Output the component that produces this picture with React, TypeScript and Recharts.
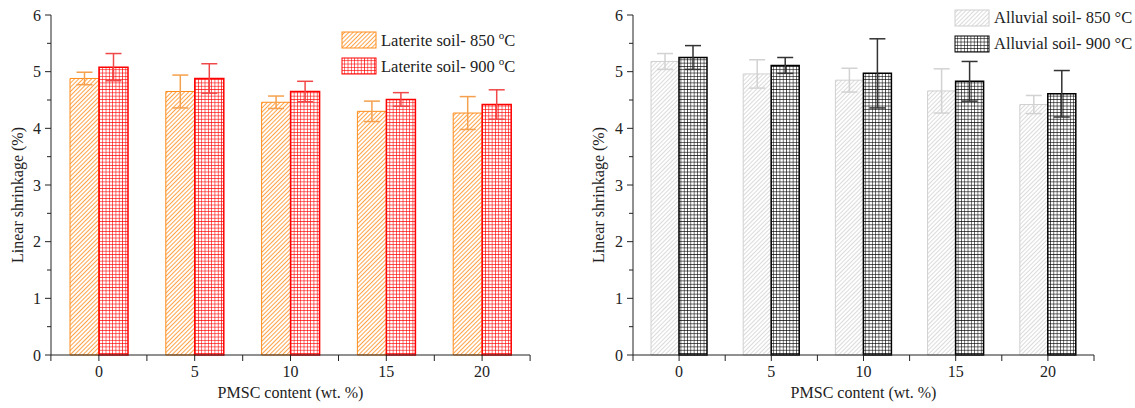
import React from "react";
import { BarChart, Bar, XAxis, YAxis, ErrorBar, Legend } from "recharts";

const categories = ["0", "5", "10", "15", "20"];
const laterite850 = [4.88, 4.65, 4.46, 4.3, 4.27];
const laterite850Err = [0.11, 0.29, 0.11, 0.18, 0.29];
const laterite900 = [5.08, 4.88, 4.65, 4.51, 4.42];
const laterite900Err = [0.24, 0.26, 0.18, 0.12, 0.26];
const alluvial850 = [5.18, 4.96, 4.85, 4.66, 4.42];
const alluvial850Err = [0.14, 0.25, 0.21, 0.39, 0.16];
const alluvial900 = [5.25, 5.11, 4.97, 4.83, 4.61];
const alluvial900Err = [0.21, 0.14, 0.61, 0.35, 0.41];
const yTicks = [0, 0.5, 1, 1.5, 2, 2.5, 3, 3.5, 4, 4.5, 5, 5.5, 6];

const FONT = "'Liberation Serif', 'Times New Roman', serif";
const AXIS = "#222";

const lateriteData = categories.map((c, i) => ({
  c,
  a: laterite850[i],
  aErr: laterite850Err[i],
  b: laterite900[i],
  bErr: laterite900Err[i],
}));

const alluvialData = categories.map((c, i) => ({
  c,
  a: alluvial850[i],
  aErr: alluvial850Err[i],
  b: alluvial900[i],
  bErr: alluvial900Err[i],
}));

function XTick(props: any) {
  const { x, y, payload, index, half } = props;
  const ay = y - 11;
  return (
    <g>
      <line x1={x} x2={x} y1={ay} y2={ay + 6} stroke={AXIS} />
      <line x1={x + half} x2={x + half} y1={ay} y2={ay + 6} stroke={AXIS} />
      {index === 0 && <line x1={x - half} x2={x - half} y1={ay} y2={ay + 6} stroke={AXIS} />}
      <text x={x} y={y} dy="0.71em" textAnchor="middle" fill={AXIS} style={{ fontFamily: FONT, fontSize: 16 }}>
        {payload.value}
      </text>
    </g>
  );
}

function YTick(props: any) {
  const { x, y, payload } = props;
  const ax = x + 10;
  const major = Number.isInteger(payload.value);
  return (
    <g>
      <line x1={ax} x2={ax - (major ? 6 : 4)} y1={y} y2={y} stroke={AXIS} />
      {major && (
        <text x={x} y={y} dy="0.35em" textAnchor="end" fill={AXIS} style={{ fontFamily: FONT, fontSize: 16 }}>
          {payload.value}
        </text>
      )}
    </g>
  );
}

function Swatch({ fill, stroke }: { fill: string; stroke: string }) {
  return (
    <svg width={36} height={18} style={{ display: "block" }}>
      <rect x={1} y={1} width={34} height={16} fill={fill} stroke={stroke} strokeWidth={1} />
    </svg>
  );
}

function LegendBox({ items }: { items: { fill: string; stroke: string; label: React.ReactNode }[] }) {
  return (
    <div style={{ fontFamily: FONT, fontSize: 16.5, color: "#222" }}>
      {items.map((it, i) => (
        <div key={i} style={{ display: "flex", alignItems: "center", height: 26, whiteSpace: "nowrap" }}>
          <Swatch fill={it.fill} stroke={it.stroke} />
          <span style={{ marginLeft: 4 }}>{it.label}</span>
        </div>
      ))}
    </div>
  );
}

const lateriteLegend = [
  {
    fill: "url(#hatchOrange)",
    stroke: "#FF8C1A",
    label: (
      <>
        Laterite soil- 850 <sup style={{ fontSize: 11 }}>o</sup>C
      </>
    ),
  },
  {
    fill: "url(#gridRed)",
    stroke: "#FF0000",
    label: (
      <>
        Laterite soil- 900 <sup style={{ fontSize: 11 }}>o</sup>C
      </>
    ),
  },
];

const alluvialLegend = [
  { fill: "url(#hatchGray)", stroke: "#CFCFCF", label: "Alluvial soil- 850 °C" },
  { fill: "url(#gridBlack)", stroke: "#000", label: "Alluvial soil- 900 °C" },
];

const labelStyle = { fontSize: 16, fill: AXIS, fontFamily: FONT };

export default function App() {
  return (
    <div style={{ position: "absolute", left: 0, top: 0, width: 1135, height: 408, background: "#fff", fontFamily: FONT }}>
      <div style={{ position: "absolute", left: 0, top: 0 }}>
        <BarChart
          width={565}
          height={408}
          data={lateriteData}
          margin={{ top: 15, right: 35, bottom: 0, left: 0 }}
          barCategoryGap={19}
          barGap={0}
          style={{ fontFamily: FONT }}
        >
          <defs>
            <pattern id="hatchOrange" patternUnits="userSpaceOnUse" width={3} height={3} patternTransform="rotate(45)">
              <rect width={3} height={3} fill="#fff" />
              <line x1={0} y1={0} x2={0} y2={3} stroke="#FF8C1A" strokeWidth={1.6} />
            </pattern>
            <pattern id="gridRed" patternUnits="userSpaceOnUse" width={3.3} height={3.3}>
              <rect width={3.3} height={3.3} fill="#fff" />
              <path d="M0 0 H3.3 M0 0 V3.3" stroke="#FF0000" strokeWidth={1.2} fill="none" />
            </pattern>
          </defs>
          <XAxis
            dataKey="c"
            height={53}
            stroke={AXIS}
            tickLine={false}
            tickSize={0}
            tickMargin={11}
            tick={(p: any) => <XTick {...p} half={48} />}
            label={{ value: "PMSC content (wt. %)", position: "center", dy: 11, ...labelStyle }}
          />
          <YAxis
            width={51}
            domain={[0, 6]}
            ticks={yTicks}
            interval={0}
            stroke={AXIS}
            tickLine={false}
            tickSize={0}
            tickMargin={10}
            tick={(p: any) => <YTick {...p} />}
            label={{ value: "Linear shrinkage (%)", angle: -90, position: "center", dx: -8, dy: 10, ...labelStyle }}
          />
          <Legend
            layout="horizontal"
            verticalAlign="middle"
            align="center"
            wrapperStyle={{ left: 341, top: 27, width: "auto", height: "auto" }}
            content={() => <LegendBox items={lateriteLegend} />}
          />
          <Bar dataKey="a" fill="url(#hatchOrange)" stroke="#FF8C1A" strokeWidth={1} isAnimationActive={false}>
            <ErrorBar dataKey="aErr" width={8} stroke="#F5A04E" strokeWidth={1.5} />
          </Bar>
          <Bar dataKey="b" fill="url(#gridRed)" stroke="#FF0000" strokeWidth={1.5} isAnimationActive={false}>
            <ErrorBar dataKey="bErr" width={8} stroke="#F04848" strokeWidth={1.5} />
          </Bar>
        </BarChart>
      </div>

      <div style={{ position: "absolute", left: 565, top: 0 }}>
        <BarChart
          width={570}
          height={408}
          data={alluvialData}
          margin={{ top: 15, right: 41, bottom: 0, left: 0 }}
          barCategoryGap={18}
          barGap={0}
          style={{ fontFamily: FONT }}
        >
          <defs>
            <pattern id="hatchGray" patternUnits="userSpaceOnUse" width={3} height={3} patternTransform="rotate(45)">
              <rect width={3} height={3} fill="#fff" />
              <line x1={0} y1={0} x2={0} y2={3} stroke="#C4C4C4" strokeWidth={1.2} />
            </pattern>
            <pattern id="gridBlack" patternUnits="userSpaceOnUse" width={3.3} height={3.3}>
              <rect width={3.3} height={3.3} fill="#fff" />
              <path d="M0 0 H3.3 M0 0 V3.3" stroke="#000" strokeWidth={1.1} fill="none" />
            </pattern>
          </defs>
          <XAxis
            dataKey="c"
            height={53}
            stroke={AXIS}
            tickLine={false}
            tickSize={0}
            tickMargin={11}
            tick={(p: any) => <XTick {...p} half={46.1} />}
            label={{ value: "PMSC content (wt. %)", position: "center", dy: 11, ...labelStyle }}
          />
          <YAxis
            width={68}
            domain={[0, 6]}
            ticks={yTicks}
            interval={0}
            stroke={AXIS}
            tickLine={false}
            tickSize={0}
            tickMargin={10}
            tick={(p: any) => <YTick {...p} />}
            label={{ value: "Linear shrinkage (%)", angle: -90, position: "center", dx: -1, dy: 10, ...labelStyle }}
          />
          <Legend
            layout="horizontal"
            verticalAlign="middle"
            align="center"
            wrapperStyle={{ left: 389, top: 5, width: "auto", height: "auto" }}
            content={() => <LegendBox items={alluvialLegend} />}
          />
          <Bar dataKey="a" fill="url(#hatchGray)" stroke="#D0D0D0" strokeWidth={1} isAnimationActive={false}>
            <ErrorBar dataKey="aErr" width={8} stroke="#D2D2D2" strokeWidth={1.5} />
          </Bar>
          <Bar dataKey="b" fill="url(#gridBlack)" stroke="#000" strokeWidth={1.5} isAnimationActive={false}>
            <ErrorBar dataKey="bErr" width={8} stroke="#333" strokeWidth={1.5} />
          </Bar>
        </BarChart>
      </div>
    </div>
  );
}
